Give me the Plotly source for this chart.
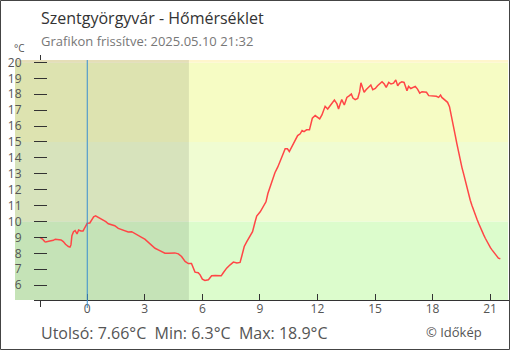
import plotly.graph_objects as go

# Temperature readings, Szentgyörgyvár, last 24 h (local time)
times = [
    "2025-05-09 21:32", "2025-05-09 21:40", "2025-05-09 21:47", "2025-05-09 21:50",
    "2025-05-09 22:03", "2025-05-09 22:14", "2025-05-09 22:20", "2025-05-09 22:29",
    "2025-05-09 22:38", "2025-05-09 22:45", "2025-05-09 22:52", "2025-05-09 23:01",
    "2025-05-09 23:06", "2025-05-09 23:09", "2025-05-09 23:12", "2025-05-09 23:17",
    "2025-05-09 23:22", "2025-05-09 23:28", "2025-05-09 23:33", "2025-05-09 23:40",
    "2025-05-09 23:47", "2025-05-09 23:53",
    "2025-05-10 00:00", "2025-05-10 00:08", "2025-05-10 00:14", "2025-05-10 00:20",
    "2025-05-10 00:26", "2025-05-10 00:34", "2025-05-10 00:43", "2025-05-10 00:50",
    "2025-05-10 00:58", "2025-05-10 01:06", "2025-05-10 01:16", "2025-05-10 01:26",
    "2025-05-10 01:37", "2025-05-10 01:47", "2025-05-10 01:58", "2025-05-10 02:08",
    "2025-05-10 02:19", "2025-05-10 02:29", "2025-05-10 02:40", "2025-05-10 02:50",
    "2025-05-10 03:00", "2025-05-10 03:11", "2025-05-10 03:22", "2025-05-10 03:32",
    "2025-05-10 03:42", "2025-05-10 03:53", "2025-05-10 04:03", "2025-05-10 04:14",
    "2025-05-10 04:24", "2025-05-10 04:34", "2025-05-10 04:45", "2025-05-10 04:55",
    "2025-05-10 05:06", "2025-05-10 05:16", "2025-05-10 05:26", "2025-05-10 05:37",
    "2025-05-10 05:47", "2025-05-10 05:53", "2025-05-10 06:00", "2025-05-10 06:08",
    "2025-05-10 06:19", "2025-05-10 06:29", "2025-05-10 06:40", "2025-05-10 06:50",
    "2025-05-10 06:59", "2025-05-10 07:06", "2025-05-10 07:16", "2025-05-10 07:27",
    "2025-05-10 07:37", "2025-05-10 07:48", "2025-05-10 07:58", "2025-05-10 08:03",
    "2025-05-10 08:11", "2025-05-10 08:19", "2025-05-10 08:29", "2025-05-10 08:37",
    "2025-05-10 08:45", "2025-05-10 08:50", "2025-05-10 09:01", "2025-05-10 09:11",
    "2025-05-10 09:19", "2025-05-10 09:25", "2025-05-10 09:32", "2025-05-10 09:39",
    "2025-05-10 09:47", "2025-05-10 09:56", "2025-05-10 10:03", "2025-05-10 10:10",
    "2025-05-10 10:14", "2025-05-10 10:19", "2025-05-10 10:26", "2025-05-10 10:32",
    "2025-05-10 10:40", "2025-05-10 10:50", "2025-05-10 10:58", "2025-05-10 11:06",
    "2025-05-10 11:12", "2025-05-10 11:18", "2025-05-10 11:26", "2025-05-10 11:35",
    "2025-05-10 11:39", "2025-05-10 11:44", "2025-05-10 11:53", "2025-05-10 12:00",
    "2025-05-10 12:07", "2025-05-10 12:14", "2025-05-10 12:19", "2025-05-10 12:24",
    "2025-05-10 12:32", "2025-05-10 12:40", "2025-05-10 12:48", "2025-05-10 12:53",
    "2025-05-10 13:01", "2025-05-10 13:06", "2025-05-10 13:11", "2025-05-10 13:16",
    "2025-05-10 13:24", "2025-05-10 13:32", "2025-05-10 13:40", "2025-05-10 13:46",
    "2025-05-10 13:51", "2025-05-10 13:58", "2025-05-10 14:06", "2025-05-10 14:12",
    "2025-05-10 14:16", "2025-05-10 14:22", "2025-05-10 14:26", "2025-05-10 14:32",
    "2025-05-10 14:40", "2025-05-10 14:47", "2025-05-10 14:53", "2025-05-10 15:01",
    "2025-05-10 15:08", "2025-05-10 15:14", "2025-05-10 15:22", "2025-05-10 15:29",
    "2025-05-10 15:35", "2025-05-10 15:43", "2025-05-10 15:50", "2025-05-10 15:58",
    "2025-05-10 16:05", "2025-05-10 16:11", "2025-05-10 16:17", "2025-05-10 16:24",
    "2025-05-10 16:31", "2025-05-10 16:40", "2025-05-10 16:45", "2025-05-10 16:52",
    "2025-05-10 17:01", "2025-05-10 17:06", "2025-05-10 17:13", "2025-05-10 17:20",
    "2025-05-10 17:27", "2025-05-10 17:34", "2025-05-10 17:41", "2025-05-10 17:48",
    "2025-05-10 17:55", "2025-05-10 18:04", "2025-05-10 18:12", "2025-05-10 18:19",
    "2025-05-10 18:25", "2025-05-10 18:29", "2025-05-10 18:37", "2025-05-10 18:47",
    "2025-05-10 18:53", "2025-05-10 18:57", "2025-05-10 19:01", "2025-05-10 19:05",
    "2025-05-10 19:11", "2025-05-10 19:16", "2025-05-10 19:21", "2025-05-10 19:26",
    "2025-05-10 19:32", "2025-05-10 19:37", "2025-05-10 19:42", "2025-05-10 19:47",
    "2025-05-10 19:52", "2025-05-10 19:58", "2025-05-10 20:03", "2025-05-10 20:08",
    "2025-05-10 20:13", "2025-05-10 20:19", "2025-05-10 20:24", "2025-05-10 20:29",
    "2025-05-10 20:34", "2025-05-10 20:40", "2025-05-10 20:45", "2025-05-10 20:50",
    "2025-05-10 20:55", "2025-05-10 21:01", "2025-05-10 21:06", "2025-05-10 21:11",
    "2025-05-10 21:16", "2025-05-10 21:22", "2025-05-10 21:26", "2025-05-10 21:32",
]
temps = [
    9.00, 8.90, 8.74, 8.72,
    8.78, 8.82, 8.89, 8.86,
    8.84, 8.74, 8.57, 8.43,
    8.39, 8.53, 9.11, 9.36,
    9.43, 9.22, 9.47, 9.41,
    9.41, 9.64,
    9.89, 9.91, 10.07, 10.30,
    10.36, 10.28, 10.16, 10.07,
    9.99, 9.86, 9.78, 9.74,
    9.57, 9.51, 9.41, 9.34,
    9.36, 9.26, 9.16, 9.01,
    8.89, 8.68, 8.47, 8.32,
    8.22, 8.11, 8.01, 8.01,
    8.03, 8.03, 7.97, 7.80,
    7.49, 7.36, 7.36, 6.82,
    6.78, 6.65, 6.38, 6.30,
    6.34, 6.59, 6.61, 6.59,
    6.59, 6.80, 7.07, 7.28,
    7.45, 7.39, 7.43, 7.80,
    8.43, 8.74, 9.05, 9.36,
    9.99, 10.34, 10.61, 10.93,
    11.24, 11.76, 12.18, 12.70,
    13.07, 13.43, 13.74, 14.10,
    14.32, 14.57, 14.57, 14.40,
    14.74, 15.09, 15.40, 15.51,
    15.72, 15.65, 15.76, 15.76,
    16.08, 16.49, 16.66, 16.55,
    16.45, 16.70, 16.97, 17.24,
    17.07, 17.32, 17.49, 17.64,
    17.39, 17.07, 17.39, 17.66,
    17.32, 17.80, 17.91, 18.01,
    17.76, 17.66, 17.74, 18.16,
    18.72, 18.36, 18.12, 18.28,
    18.43, 18.58, 18.28, 18.36,
    18.53, 18.64, 18.78, 18.64,
    18.43, 18.74, 18.64, 18.70,
    18.90, 18.53, 18.70, 18.78,
    18.74, 18.22, 18.49, 18.36,
    18.43, 18.49, 18.32, 18.07,
    18.16, 18.16, 18.12, 17.91,
    17.91, 17.87, 17.87, 17.80,
    17.95, 17.80, 17.66, 17.49,
    17.22, 16.76, 16.34, 15.93,
    15.41, 14.89, 14.36, 13.84,
    13.39, 13.01, 12.59, 12.18,
    11.76, 11.34, 11.03, 10.72,
    10.41, 10.14, 9.89, 9.64,
    9.36, 9.16, 8.95, 8.74,
    8.53, 8.36, 8.22, 8.07,
    7.93, 7.80, 7.70, 7.66,
]

hour_ticks = ["2025-05-10 %02d:00" % h for h in range(0, 22, 3)]
hour_labels = [str(h) for h in range(0, 22, 3)]
temp_ticks = list(range(6, 21))

x_range = ["2025-05-09 20:14", "2025-05-10 21:56"]
y_range = [5.07, 20.15]
sunrise = "2025-05-10 05:18"
midnight = "2025-05-10 00:00"

# temperature bands: (low, high, colour)
bands = [
    (y_range[0], 10, "#dcfccc"),
    (10, 15, "#f0fcd2"),
    (15, 20, "#f6fcc4"),
    (20, y_range[1], "#fff6cc"),
]

W, H = 510, 350
L, R, T, B = 15, 2, 60, 50
PW, PH = W - L - R, H - T - B


def px(x):
    return (x - L) / PW


def py(y):
    return (H - B - y) / PH


last, tmin, tmax = temps[-1], min(temps), max(temps)

fig = go.Figure()
fig.add_trace(go.Scatter(
    x=times, y=temps, mode="lines",
    line=dict(color="#ff4646", width=1.5),
    hoverinfo="skip", showlegend=False,
))

shapes = []
# vertical temperature axis line (only visible outside the bands)
shapes.append(dict(type="line", xref="paper", yref="paper",
                   x0=px(40.5), x1=px(40.5), y0=py(307), y1=py(55),
                   line=dict(color="#333333", width=1), layer="below"))
for lo, hi, col in bands:
    shapes.append(dict(type="rect", xref="x", yref="y",
                       x0=x_range[0], x1=x_range[1], y0=lo, y1=hi,
                       fillcolor=col, line=dict(width=0), layer="below"))
# night shading until sunrise
shapes.append(dict(type="rect", xref="x", yref="y",
                   x0=x_range[0], x1=sunrise, y0=y_range[0], y1=y_range[1],
                   fillcolor="rgba(0,10,0,0.1)", line=dict(width=0), layer="below"))
# horizontal time axis line
shapes.append(dict(type="line", xref="paper", yref="paper",
                   x0=px(34), x1=px(509), y0=py(300.5), y1=py(300.5),
                   line=dict(color="#333333", width=1), layer="above"))
# midnight marker
shapes.append(dict(type="line", xref="x", yref="paper",
                   x0=midnight, x1=midnight, y0=py(308), y1=py(60),
                   line=dict(color="#3a8fd0", width=1), layer="above"))
# outer frame
shapes.append(dict(type="rect", xref="paper", yref="paper",
                   x0=px(0.5), x1=px(509.5), y0=py(349.5), y1=py(0.5),
                   line=dict(color="#444444", width=1), layer="above"))

annotations = [
    dict(text="Szentgyörgyvár - Hőmérséklet", x=px(39), y=py(18),
         font=dict(size=16, color="#333333")),
    dict(text="Grafikon frissítve: 2025.05.10 21:32", x=px(39), y=py(41),
         font=dict(size=13, color="#777777")),
    dict(text="°C", x=px(12), y=py(47.5), font=dict(size=10, color="#555555")),
    dict(text="Utolsó: %.2f°C  Min: %.1f°C  Max: %.1f°C" % (last, tmin, tmax),
         x=px(39), y=py(333), font=dict(size=16, color="#555555")),
    dict(text="© Időkép", x=px(424), y=py(332), font=dict(size=13, color="#555555")),
]
for a in annotations:
    a.update(xref="paper", yref="paper", xanchor="left", yanchor="middle",
             showarrow=False)

fig.update_layout(
    width=W, height=H,
    margin=dict(l=L, r=R, t=T, b=B, pad=0),
    paper_bgcolor="white", plot_bgcolor="rgba(0,0,0,0)",
    font=dict(family="Open Sans", color="#555555"),
    shapes=shapes, annotations=annotations,
    showlegend=False,
    xaxis=dict(
        type="date", range=x_range, tickvals=hour_ticks, ticktext=hour_labels,
        ticks="inside", ticklen=6, tickcolor="#333333", tickwidth=1,
        showgrid=False, zeroline=False, showline=False,
        tickfont=dict(size=12, color="#555555"),
    ),
    yaxis=dict(
        range=y_range, tickvals=temp_ticks, anchor="free", position=px(47),
        ticks="outside", ticklen=13, tickcolor="#333333", tickwidth=1,
        showgrid=False, zeroline=False, showline=False,
        tickfont=dict(size=12, color="#555555"), ticklabelstandoff=10,
    ),
)

fig.write_html("out.html")
